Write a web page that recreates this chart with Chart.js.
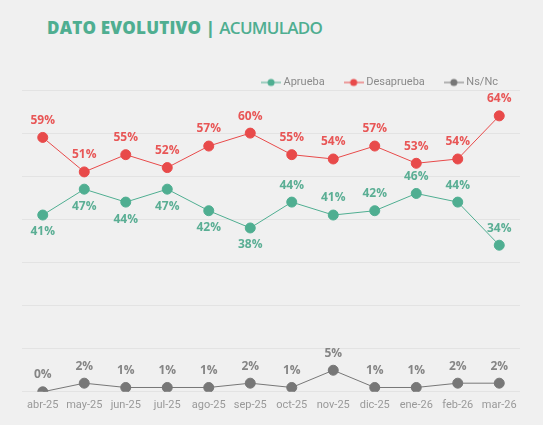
<!DOCTYPE html>
<html>
<head>
<meta charset="utf-8">
<script src="https://cdn.jsdelivr.net/npm/chart.js@4/dist/chart.umd.min.js"></script>
<style>
  html, body { margin: 0; padding: 0; background: #f0f0f0; }
  #wrap { position: relative; width: 543px; height: 425px; }
  #title { position: absolute; left: 47px; top: 16px; font-family: "Open Sans", sans-serif; font-size: 17px; color: #4fae91; white-space: nowrap; }
  #title b { font-weight: 800; letter-spacing: 0.2px; }
  #title span { font-weight: 600; letter-spacing: -0.7px; }
  canvas { position: absolute; left: 0; top: 0; }
</style>
</head>
<body>
<div id="wrap">
  <div id="title"><b>DATO EVOLUTIVO |</b> <span>ACUMULADO</span></div>
  <canvas id="c" width="543" height="425"></canvas>
</div>
<script>
const categories = ['abr-25','may-25','jun-25','jul-25','ago-25','sep-25','oct-25','nov-25','dic-25','ene-26','feb-26','mar-26'];
const aprueba    = [41, 47, 44, 47, 42, 38, 44, 41, 42, 46, 44, 34];
const desaprueba = [59, 51, 55, 52, 57, 60, 55, 54, 57, 53, 54, 64];
const nsnc       = [0, 2, 1, 1, 1, 2, 1, 5, 1, 1, 2, 2];
const seriesNames = ['Aprueba', 'Desaprueba', 'Ns/Nc'];
const yTicks = [0, 10, 20, 30, 40, 50, 60, 70];

const colors = ['#4fae91', '#e84a4a', '#777777'];
const labelColors = ['#5aae94', '#e85656', '#858585'];
// label placement per point for the Aprueba series
const apruebaLabelSide = ['below','below','below','below','below','below','above','above','above','above','above','above'];

function legendIcon(color) {
  const cv = document.createElement('canvas');
  cv.width = 20; cv.height = 10;
  const g = cv.getContext('2d');
  g.strokeStyle = color; g.lineWidth = 1;
  g.beginPath(); g.moveTo(0, 5); g.lineTo(20, 5); g.stroke();
  g.fillStyle = color;
  g.beginPath(); g.arc(10, 5, 3.5, 0, Math.PI * 2); g.fill();
  return cv;
}

const legendTighten = {
  id: 'legendTighten',
  afterInit(chart) {
    const lg = chart.legend;
    if (!lg) return;
    const orig = lg.fit.bind(lg);
    lg.fit = function () { orig(); this.height -= 8; };
  }
};

const valueLabels = {
  id: 'valueLabels',
  afterDatasetsDraw(chart) {
    const ctx = chart.ctx;
    ctx.save();
    ctx.font = 'bold 12px "Open Sans", sans-serif';
    ctx.textAlign = 'center';
    ctx.textBaseline = 'middle';
    chart.data.datasets.forEach((ds, di) => {
      const meta = chart.getDatasetMeta(di);
      meta.data.forEach((pt, i) => {
        let side = 'above';
        if (di === 0) side = apruebaLabelSide[i];
        const dy = side === 'above' ? -17 : 17;
        ctx.fillStyle = labelColors[di];
        ctx.fillText(ds.data[i] + '%', pt.x, pt.y + dy);
      });
    });
    ctx.restore();
  }
};

const mk = (label, data, i) => ({
  label, data,
  borderColor: colors[i],
  backgroundColor: colors[i],
  pointBackgroundColor: colors[i],
  pointBorderColor: colors[i],
  pointRadius: 5,
  pointHoverRadius: 5,
  borderWidth: 1,
  tension: 0
});

new Chart(document.getElementById('c'), {
  type: 'line',
  data: {
    labels: categories,
    datasets: [mk(seriesNames[0], aprueba, 0), mk(seriesNames[1], desaprueba, 1), mk(seriesNames[2], nsnc, 2)]
  },
  options: {
    responsive: false,
    animation: false,
    layout: { padding: { left: 22, right: 23, top: 55, bottom: 6 } },
    plugins: {
      tooltip: { enabled: false },
      legend: {
        position: 'top',
        align: 'end',
        labels: {
          color: '#8a8a8a',
          font: { family: 'Roboto, sans-serif', size: 11 },
          usePointStyle: true,
          pointStyleWidth: 14,
          boxHeight: 10,
          padding: 22,
          generateLabels(chart) {
            return chart.data.datasets.map((ds, i) => ({
              text: ds.label,
              fillStyle: colors[i],
              strokeStyle: colors[i],
              fontColor: '#8a8a8a',
              pointStyle: legendIcon(colors[i]),
              lineWidth: 0,
              hidden: false,
              datasetIndex: i
            }));
          }
        }
      }
    },
    scales: {
      x: {
        offset: true,
        grid: { display: false, drawTicks: false },
        border: { display: false },
        ticks: { color: '#999999', font: { family: 'Roboto, sans-serif', size: 11 }, padding: 7, maxRotation: 0, autoSkip: false }
      },
      y: {
        min: yTicks[0],
        max: yTicks[yTicks.length - 1],
        afterBuildTicks(axis) { axis.ticks = yTicks.map(v => ({ value: v })); },
        grid: { color: '#e3e3e3', drawTicks: false, lineWidth: 1 },
        border: { display: false },
        ticks: { display: false }
      }
    }
  },
  plugins: [legendTighten, valueLabels]
});
</script>
</body>
</html>
